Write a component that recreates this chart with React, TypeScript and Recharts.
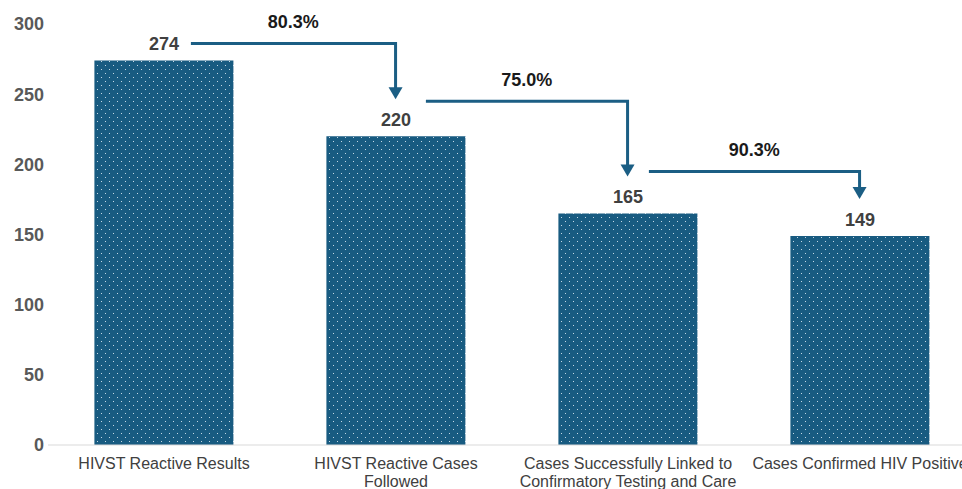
import React from "react";
import { BarChart, Bar, XAxis, YAxis, LabelList } from "recharts";

const CATEGORIES = [
  "HIVST Reactive Results",
  "HIVST Reactive Cases\nFollowed",
  "Cases Successfully Linked to\nConfirmatory Testing and Care",
  "Cases Confirmed HIV Positive",
];
const COUNTS = [274, 220, 165, 149];
const Y_TICKS = [0, 50, 100, 150, 200, 250, 300];

const data = CATEGORIES.map((name, i) => ({ name, value: COUNTS[i] }));

const FONT = "'Liberation Sans', Arial, sans-serif";
const BAR_BLUE = "#185b81";
const ARROW_BLUE = "#1b5e84";
const GAP_RATIO = 0.2; // barCategoryGap per side

// hand-tuned connector placement, like the original slide
const ARROW_START_DX = [27, 30, 21];
const ARROW_LIFT = [17, 35, 42];
const TIP_GAP = 37;

function CategoryTick(props: any) {
  const { x, y, payload } = props;
  const lines = String(payload.value).split("\n");
  return (
    <text x={x} y={y} textAnchor="middle" fill="#404040" fontSize={16} fontFamily={FONT}>
      {lines.map((ln, i) => (
        <tspan key={i} x={x} dy={i === 0 ? 16 : 18}>
          {ln}
        </tspan>
      ))}
    </text>
  );
}

function ValueAndArrow(props: any) {
  const { x, y, width, height, value, index } = props;
  const cx = x + width / 2;
  const top = y;
  const items: React.ReactNode[] = [
    <text
      key="v"
      x={cx}
      y={top - 10}
      textAnchor="middle"
      fill="#404040"
      fontSize={18}
      fontWeight="bold"
      fontFamily={FONT}
    >
      {value}
    </text>,
  ];

  if (index < COUNTS.length - 1) {
    const step = width / (1 - 2 * GAP_RATIO);
    const perUnit = height / value;
    const base = y + height;
    const ncx = cx + step;
    const ntop = base - COUNTS[index + 1] * perUnit;
    const lineY = top - ARROW_LIFT[index];
    const startX = cx + ARROW_START_DX[index];
    const tipY = ntop - TIP_GAP;
    const pct = ((COUNTS[index + 1] / COUNTS[index]) * 100).toFixed(1) + "%";
    items.push(
      <g key="a">
        <polyline
          points={`${startX},${lineY} ${ncx},${lineY} ${ncx},${tipY - 11}`}
          fill="none"
          stroke={ARROW_BLUE}
          strokeWidth={3}
        />
        <polygon
          points={`${ncx - 7},${tipY - 12} ${ncx + 7},${tipY - 12} ${ncx},${tipY}`}
          fill={ARROW_BLUE}
        />
        <text
          x={(startX + ncx) / 2}
          y={lineY - 15}
          textAnchor="middle"
          fill="#1a1a1a"
          fontSize={18}
          fontWeight="bold"
          fontFamily={FONT}
        >
          {pct}
        </text>
      </g>
    );
  }
  return <g>{items}</g>;
}

export default function App() {
  return (
    <div
      style={{
        position: "fixed",
        left: 0,
        top: 0,
        width: 962,
        height: 489,
        overflow: "hidden",
        background: "#fff",
      }}
    >
      <BarChart
        width={976}
        height={489}
        data={data}
        margin={{ top: 24, right: 0, left: 0, bottom: 0 }}
        barCategoryGap={`${GAP_RATIO * 100}%`}
      >
        <defs>
          <pattern id="dots" width="8" height="8" patternUnits="userSpaceOnUse">
            <rect width="8" height="8" fill={BAR_BLUE} />
            <rect x="1" y="1" width="1" height="1" fill="#c4d8e4" />
            <rect x="5" y="5" width="1" height="1" fill="#c4d8e4" />
          </pattern>
        </defs>
        <XAxis
          dataKey="name"
          height={44}
          interval={0}
          tickLine={false}
          tickSize={6}
          tickMargin={2}
          axisLine={{ stroke: "#d9d9d9" }}
          tick={<CategoryTick />}
        />
        <YAxis
          width={48}
          domain={[0, 300]}
          ticks={Y_TICKS}
          axisLine={false}
          tickLine={false}
          tickSize={4}
          tickMargin={0}
          tick={{ fill: "#595959", fontSize: 18, fontWeight: "bold", fontFamily: FONT }}
        />
        <Bar dataKey="value" fill="url(#dots)" isAnimationActive={false}>
          <LabelList dataKey="value" content={<ValueAndArrow />} />
        </Bar>
      </BarChart>
    </div>
  );
}
